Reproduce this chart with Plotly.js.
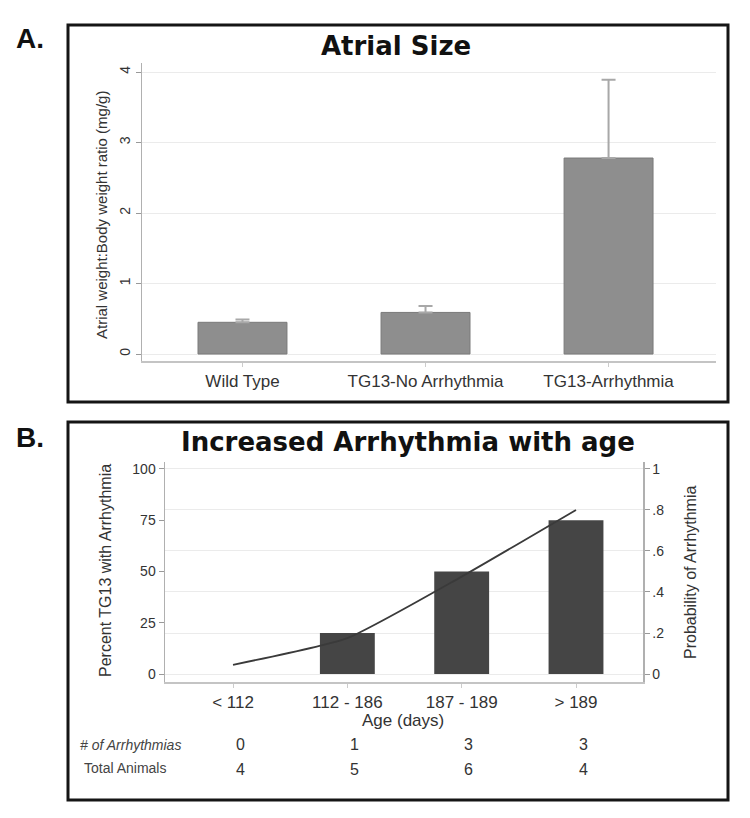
<!DOCTYPE html>
<html>
<head>
<meta charset="utf-8">
<script src="https://cdn.plot.ly/plotly-3.0.1.min.js"></script>
<style>
  html, body { margin: 0; padding: 0; background: #ffffff; }
  #chart { width: 750px; height: 818px; }
</style>
</head>
<body>
<div id="chart"></div>
<script>
// ---- Panel A data ----
const groupsA = ["Wild Type", "TG13-No Arrhythmia", "TG13-Arrhythmia"];
const atrialRatio = [0.45, 0.59, 2.78];
const atrialErr = [0.04, 0.09, 1.11];
const tickValsA = [0, 1, 2, 3, 4];

// ---- Panel B data ----
const ageGroups = ["< 112", "112 - 186", "187 - 189", "> 189"];
const percentArr = [0, 20, 50, 75];
const probArr = [0.045, 0.175, 0.475, 0.80];
const tickValsPct = [0, 25, 50, 75, 100];
const tickValsProb = [0, 0.2, 0.4, 0.6, 0.8, 1];
const tickTextProb = ["0", ".2", ".4", ".6", ".8", "1"];
const nArrhythmias = [0, 1, 3, 3];
const totalAnimals = [4, 5, 6, 4];
const tableRowLabels = ["# of Arrhythmias", "Total Animals"];

const W = 750, H = 818;
const px = v => v / W;
const py = v => 1 - v / H;

const tickFont = { family: "Liberation Sans, Arial, sans-serif", size: 14, color: "#333" };
const catFont = { family: "Liberation Sans, Arial, sans-serif", size: 17, color: "#333" };

const traces = [
  {
    type: "bar", x: groupsA, y: atrialRatio, xaxis: "x", yaxis: "y",
    width: 0.486,
    marker: { color: "#8e8e8e", line: { color: "#7a7a7a", width: 1 } },
    error_y: { type: "data", symmetric: false, array: atrialErr, arrayminus: [0, 0, 0],
               color: "#a8a8a8", thickness: 2, width: 7 },
    hoverinfo: "skip", showlegend: false
  },
  {
    type: "bar", x: ageGroups, y: percentArr, xaxis: "x2", yaxis: "y2",
    width: 0.48,
    marker: { color: "#454545", line: { width: 0 } },
    hoverinfo: "skip", showlegend: false
  },
  {
    type: "scatter", mode: "lines", x: ageGroups, y: probArr, xaxis: "x2", yaxis: "y3",
    line: { color: "#3a3a3a", width: 1.8, shape: "spline", smoothing: 0.5 },
    hoverinfo: "skip", showlegend: false
  }
];

function ann(o) {
  return Object.assign({ xref: "paper", yref: "paper", showarrow: false,
                         xanchor: "center", yanchor: "middle" }, o);
}

const annotations = [
  ann({ text: "<b>A.</b>", x: px(30), y: py(38),
    font: { family: "Liberation Sans, Arial, sans-serif", size: 28, color: "#111" } }),
  ann({ text: "<b>B.</b>", x: px(30), y: py(437),
    font: { family: "Liberation Sans, Arial, sans-serif", size: 28, color: "#111" } }),
  ann({ text: "<b>Atrial Size</b>", x: px(396), y: py(46),
    font: { family: "DejaVu Sans, Verdana, sans-serif", size: 26, color: "#111" } }),
  ann({ text: "<b>Increased Arrhythmia with age</b>", x: px(408), y: py(442),
    font: { family: "DejaVu Sans, Verdana, sans-serif", size: 26, color: "#111" } }),
  ann({ text: "Atrial weight:Body weight ratio (mg/g)", x: px(102), y: py(215), textangle: -90,
    font: { family: "Liberation Sans, Arial, sans-serif", size: 15, color: "#333" } }),
  ann({ text: "Percent TG13 with Arrhythmia", x: px(105), y: py(571), textangle: -90,
    font: { family: "Liberation Sans, Arial, sans-serif", size: 16, color: "#333" } }),
  ann({ text: "Probability of Arrhythmia", x: px(690), y: py(572), textangle: -90,
    font: { family: "Liberation Sans, Arial, sans-serif", size: 16, color: "#333" } }),
  ann({ text: "Age (days)", x: px(403), y: py(720),
    font: { family: "Liberation Sans, Arial, sans-serif", size: 17, color: "#333" } }),
  ann({ text: "<i>" + tableRowLabels[0] + "</i>", x: px(78), y: py(745), xanchor: "left",
    font: { family: "Liberation Sans, Arial, sans-serif", size: 14, color: "#444" } }),
  ann({ text: tableRowLabels[1], x: px(82), y: py(768), xanchor: "left",
    font: { family: "Liberation Sans, Arial, sans-serif", size: 14, color: "#444" } })
];

ageGroups.forEach((g, i) => {
  annotations.push(ann({ text: String(nArrhythmias[i]), xref: "x2", x: g, y: py(744), xshift: 7,
    font: { family: "Liberation Sans, Arial, sans-serif", size: 16, color: "#333" } }));
  annotations.push(ann({ text: String(totalAnimals[i]), xref: "x2", x: g, y: py(769), xshift: 7,
    font: { family: "Liberation Sans, Arial, sans-serif", size: 16, color: "#333" } }));
});

const layout = {
  width: W, height: H,
  margin: { l: 0, r: 0, t: 0, b: 0 },
  paper_bgcolor: "#ffffff", plot_bgcolor: "#ffffff",
  showlegend: false,
  xaxis: {
    domain: [px(142), px(716)], anchor: "y",
    range: [-0.549, 2.587], type: "category",
    showline: true, linecolor: "#c4c4c4", linewidth: 2,
    ticks: "outside", ticklen: 4, tickcolor: "#ccc",
    tickfont: catFont, showgrid: false, zeroline: false, fixedrange: true
  },
  yaxis: {
    domain: [py(361), py(63)], anchor: "x",
    range: [-0.099, 4.128],
    tickvals: tickValsA, ticktext: tickValsA.map(String), tickangle: -90,
    showline: true, linecolor: "#b0b0b0", linewidth: 1.5,
    ticks: "outside", ticklen: 5, tickcolor: "#999",
    tickfont: tickFont, showgrid: true, gridcolor: "#ebebeb", gridwidth: 1,
    zeroline: false, fixedrange: true
  },
  xaxis2: {
    domain: [px(165), px(643)], anchor: "y2",
    range: [-0.595, 3.586], type: "category",
    showline: true, linecolor: "#c4c4c4", linewidth: 2,
    ticks: "outside", ticklen: 4, tickcolor: "#ccc",
    tickfont: catFont, showgrid: false, zeroline: false, fixedrange: true
  },
  yaxis2: {
    domain: [py(682), py(462)], anchor: "x2",
    range: [-3.9, 103.4],
    tickvals: tickValsPct, ticktext: tickValsPct.map(String),
    showline: true, linecolor: "#b0b0b0", linewidth: 1.5,
    ticks: "outside", ticklen: 5, tickcolor: "#999",
    tickfont: tickFont, showgrid: false, zeroline: false, fixedrange: true
  },
  yaxis3: {
    overlaying: "y2", side: "right", anchor: "x2",
    range: [-0.039, 1.034],
    tickvals: tickValsProb, ticktext: tickTextProb,
    showline: true, linecolor: "#b0b0b0", linewidth: 1.5,
    ticks: "outside", ticklen: 5, tickcolor: "#999",
    tickfont: tickFont, showgrid: true, gridcolor: "#ebebeb", gridwidth: 1,
    zeroline: false, fixedrange: true
  },
  shapes: [
    { type: "rect", xref: "paper", yref: "paper", x0: px(68), x1: px(728), y0: py(402), y1: py(25),
      line: { color: "#151515", width: 3 } },
    { type: "rect", xref: "paper", yref: "paper", x0: px(68), x1: px(728), y0: py(800), y1: py(422),
      line: { color: "#151515", width: 3 } }
  ],
  annotations: annotations
};

Plotly.newPlot("chart", traces, layout, { staticPlot: true, displayModeBar: false });
</script>
</body>
</html>
